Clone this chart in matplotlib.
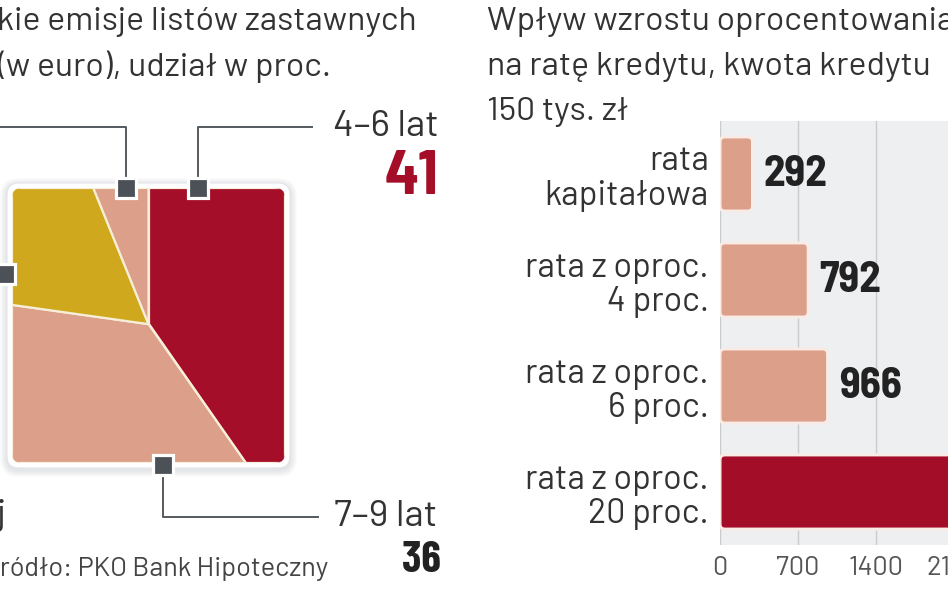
import matplotlib
matplotlib.use('Agg')
import matplotlib.pyplot as plt
from matplotlib.patches import Polygon, FancyBboxPatch
import numpy as np

# ---------------- data ----------------
pie_labels = ['4–6 lat', '7–9 lat', '', '']          # clockwise from top
pie_values = [41, 36, 18, 5]
pie_colors = ['#a50e28', '#dc9f89', '#cfa81d', '#dc9f89']

bar_labels = ['rata\nkapitałowa', 'rata z oproc.\n4 proc.',
              'rata z oproc.\n6 proc.', 'rata z oproc.\n20 proc.']
bar_values = [292, 792, 966, 2792]
bar_colors = ['#dc9f89', '#dc9f89', '#dc9f89', '#a30d27']
x_ticks = [0, 700, 1400, 2100]

W, H = 948, 593
fig = plt.figure(figsize=(W / 100, H / 100), dpi=100)
fig.patch.set_facecolor('white')

def fx(x): return x / W
def fy(y): return 1 - y / H

FONT = ['Barlow', 'DejaVu Sans']
BOLD = ['Barlow Semi Condensed', 'DejaVu Sans']
BOLDC = ['Barlow Condensed', 'DejaVu Sans']

bg = fig.add_axes([0, 0, 1, 1], zorder=0)
bg.set_xlim(0, W); bg.set_ylim(H, 0); bg.axis('off')

ov = fig.add_axes([0, 0, 1, 1], zorder=10)
ov.set_xlim(0, W); ov.set_ylim(H, 0); ov.axis('off')
ov.patch.set_alpha(0)

# ---------------- left panel ----------------
txtc = '#333333'
TS = 24.3
bg.text(-3, 22, 'kie emisje listów zastawnych', fontsize=TS, va='center', ha='left',
        color=txtc, family=FONT)
bg.text(-3, 67, '(w euro), udział w proc.', fontsize=TS, va='center', ha='left',
        color=txtc, family=FONT)

# frame with shadow
for k in range(7, 0, -1):
    bg.add_patch(FancyBboxPatch((7 - k, 183 - k + 2), 283 + 2 * k, 285 + 2 * k,
                                boxstyle=f'round,pad=0,rounding_size={12 + k}',
                                fc='#8f9aa3', ec='none', alpha=0.035))
bg.add_patch(FancyBboxPatch((7, 183), 283, 285, boxstyle='round,pad=0,rounding_size=12',
                            fc='white', ec='#e2e5e8', lw=0.8))

pax = fig.add_axes([fx(12), fy(463), 273 / W, 275 / H], zorder=5)
pax.set_xlim(0, 1); pax.set_ylim(0, 1); pax.axis('off')
pax.patch.set_alpha(0)


def square_pie_polys(values, c=(0.5, 0.5)):
    cx, cy = c
    verts = [(cx, 1), (1, 1), (1, 0), (0, 0), (0, 1), (cx, 1)]
    segs = []
    for p, q in zip(verts[:-1], verts[1:]):
        area = 0.5 * abs((p[0] - cx) * (q[1] - cy) - (q[0] - cx) * (p[1] - cy))
        segs.append((p, q, area))
    fr = np.cumsum([0] + list(values)) / float(sum(values))

    def point(a):
        acc = 0.0
        for i, (p, q, ar) in enumerate(segs):
            if ar > 0 and acc + ar >= a - 1e-12:
                t = (a - acc) / ar
                return i, (p[0] + t * (q[0] - p[0]), p[1] + t * (q[1] - p[1]))
            acc += ar
        return len(segs) - 1, segs[-1][1]

    polys = []
    for f0, f1 in zip(fr[:-1], fr[1:]):
        i0, p0 = point(f0)
        i1, p1 = point(f1)
        pts = [(cx, cy), p0]
        for j in range(i0, i1):
            pts.append(segs[j][1])
        pts.append(p1)
        polys.append(pts)
    return polys


clip = FancyBboxPatch((0, 0), 1, 1, boxstyle='round,pad=0,rounding_size=0.035',
                      transform=pax.transData, fc='none', ec='none')
pax.add_patch(clip)
for pts, col in zip(square_pie_polys(pie_values, c=(0.5, 0.505)), pie_colors):
    poly = Polygon(pts, closed=True, fc=col, ec='#f7eed8', lw=1.6, joinstyle='miter')
    pax.add_patch(poly)
    poly.set_clip_path(clip)

# connectors
lc = '#555a5f'
ov.plot([0, 126, 126], [127, 127, 188], color=lc, lw=1.4)
ov.plot([312, 198, 198], [127, 127, 188], color=lc, lw=1.4)
ov.plot([163, 163, 318], [464, 517, 517], color=lc, lw=1.4)
for (x, y) in [(126, 188), (198, 188), (5, 274), (163, 465)]:
    ov.plot(x, y, marker='s', ms=14.5, mfc='#4b5157', mec='white', mew=2.3)

ov.text(333, 127, pie_labels[0], fontsize=27, ha='left', va='center', color=txtc, family=FONT)
ov.text(439, 177, str(pie_values[0]), fontsize=45, ha='right', va='center',
        color='#a50e28', family=BOLD, weight='bold')
ov.text(334, 516, pie_labels[1], fontsize=27, ha='left', va='center', color=txtc, family=FONT)
ov.text(441, 560, str(pie_values[1]), fontsize=32, ha='right', va='center',
        color='#222222', family=BOLDC, weight='bold')
ov.text(-4, 515, 'j', fontsize=27, ha='left', va='center', color=txtc, family=FONT)
ov.text(328, 566, 'Źródło: PKO Bank Hipoteczny', fontsize=19.5, ha='right', va='center',
        color='#444444', family=FONT)

# ---------------- right panel ----------------
bg.text(487, 22, 'Wpływ wzrostu oprocentowania', fontsize=TS, va='center', ha='left',
        color=txtc, family=FONT)
bg.text(487, 67, 'na ratę kredytu, kwota kredytu', fontsize=TS, va='center', ha='left',
        color=txtc, family=FONT)
bg.text(487, 112, '150 tys. zł', fontsize=TS, va='center', ha='left',
        color=txtc, family=FONT)

scale = 78 / 700.0           # px per unit
xmax = 3000
bax = fig.add_axes([fx(720), fy(545), xmax * scale / W, 424 / H], zorder=4)
bax.set_xlim(0, xmax)
bax.set_ylim(3.5, -0.5)
bax.set_facecolor('#edeff1')
for s in bax.spines.values():
    s.set_visible(False)
bax.set_xticks(x_ticks)
bax.set_xticklabels([str(t) for t in x_ticks], fontsize=19.5, color='#555555', family=FONT)
bax.tick_params(axis='x', length=0, pad=8)
bax.set_yticks(range(len(bar_labels)))
bax.set_yticklabels(bar_labels, fontsize=24.5, color=txtc, family=FONT, linespacing=1.1)
bax.tick_params(axis='y', length=0, pad=8)
bax.grid(axis='x', color='#c9cbcd', lw=1)
bax.set_axisbelow(True)

bars = bax.barh(range(len(bar_values)), bar_values, height=0.7, color='none')
rx = 5 / scale
ry = 5 / 106.0
for b, col, v in zip(bars, bar_colors, bar_values):
    b.set_visible(False)
    p = FancyBboxPatch((b.get_x(), b.get_y()), b.get_width(), b.get_height(),
                       boxstyle=f'round,pad=0,rounding_size={rx}',
                       mutation_aspect=ry / rx, fc=col, ec='#f9ebe6', lw=2.2, zorder=3)
    bax.add_patch(p)
for i, v in enumerate(bar_values[:3]):
    bax.annotate(str(v), (v, i), xytext=(8, 0), textcoords='offset points',
                 ha='left', va='center', fontsize=31, weight='bold', color='#222222',
                 family=BOLD)

fig.savefig('out.png', dpi=100)
